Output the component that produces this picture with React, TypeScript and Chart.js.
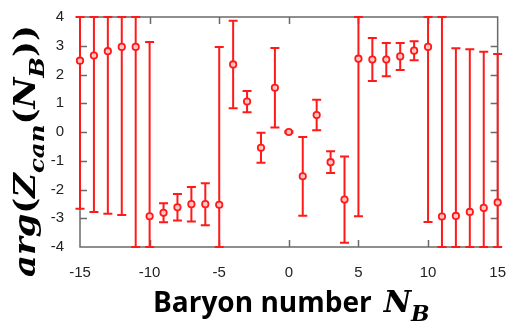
import { useEffect, useRef } from 'react';
import { Chart, registerables } from 'chart.js';

Chart.register(...registerables);

// Baryon number N_B on the horizontal axis
const nB = [-15, -14, -13, -12, -11, -10, -9, -8, -7, -6, -5, -4, -3, -2, -1, 0, 1, 2, 3, 4, 5, 6, 7, 8, 9, 10, 11, 12, 13, 14, 15];
// Phase of the canonical partition function, arg Z_can(N_B)
const argZ = [2.48, 2.66, 2.81, 2.96, 2.96, -2.93, -2.81, -2.62, -2.51, -2.51, -2.53, 2.35, 1.06, -0.55, 1.54, 0.0, -1.54, 0.59, -1.05, -2.35, 2.55, 2.52, 2.52, 2.63, 2.83, 2.96, -2.94, -2.92, -2.78, -2.64, -2.45];
// Symmetric statistical errors
const argZErr = [5.15, 5.44, 5.65, 5.85, 7.2, 6.06, 0.33, 0.46, 0.6, 0.73, 5.49, 1.52, 0.37, 0.52, 1.38, 0.03, 1.37, 0.53, 0.38, 1.5, 5.48, 0.75, 0.58, 0.47, 0.33, 6.09, 7.2, 5.83, 5.66, 5.43, 5.16];

const xMin = -15;
const xMax = 15;
const yMin = -4;
const yMax = 4;
const xMajorTicks = [-10, -5, 0, 5, 10];
const yMajorTicks = [-3, -2, -1, 0, 1, 2, 3];

const RED = '#ff1a1a';
const FRAME = '#6a6a6a';
const MATH = '"DejaVu Serif", "Liberation Serif", serif';

type Seg = { text: string; font: string; dy?: number };

function measureSegs(ctx: CanvasRenderingContext2D, segs: Seg[]) {
  let w = 0;
  for (const s of segs) {
    ctx.font = s.font;
    w += ctx.measureText(s.text).width;
  }
  return w;
}

function drawSegs(ctx: CanvasRenderingContext2D, segs: Seg[], u0: number) {
  let u = u0;
  for (const s of segs) {
    ctx.font = s.font;
    ctx.fillText(s.text, u, s.dy || 0);
    u += ctx.measureText(s.text).width;
  }
}

const decorPlugin = {
  id: 'decor',
  beforeDatasetsDraw(chart: any) {
    const { ctx, chartArea: a, scales } = chart;
    const xs = scales.x;
    const ys = scales.y;
    ctx.save();
    // frame
    ctx.strokeStyle = FRAME;
    ctx.lineWidth = 1.5;
    ctx.strokeRect(a.left, a.top, a.right - a.left, a.bottom - a.top);
    // inward tick marks
    ctx.beginPath();
    for (const v of xMajorTicks) {
      const px = Math.round(xs.getPixelForValue(v)) + 0.5;
      ctx.moveTo(px, a.bottom);
      ctx.lineTo(px, a.bottom - 7);
      ctx.moveTo(px, a.top);
      ctx.lineTo(px, a.top + 7);
    }
    for (const v of yMajorTicks) {
      const py = Math.round(ys.getPixelForValue(v)) + 0.5;
      ctx.moveTo(a.left, py);
      ctx.lineTo(a.left + 7, py);
      ctx.moveTo(a.right, py);
      ctx.lineTo(a.right - 7, py);
    }
    ctx.stroke();

    // error bars, clipped to the axis range
    ctx.strokeStyle = RED;
    ctx.lineWidth = 2;
    const cap = 4.5;
    nB.forEach((n, i) => {
      const px = xs.getPixelForValue(n);
      const hi = Math.min(argZ[i] + argZErr[i], yMax);
      const lo = Math.max(argZ[i] - argZErr[i], yMin);
      const pyHi = ys.getPixelForValue(hi);
      const pyLo = ys.getPixelForValue(lo);
      ctx.beginPath();
      ctx.moveTo(px, pyHi);
      ctx.lineTo(px, pyLo);
      ctx.moveTo(px - cap, pyHi);
      ctx.lineTo(px + cap, pyHi);
      ctx.moveTo(px - cap, pyLo);
      ctx.lineTo(px + cap, pyLo);
      ctx.stroke();
    });
    ctx.restore();
  },
  afterDraw(chart: any) {
    const { ctx } = chart;
    ctx.save();
    ctx.fillStyle = '#000';
    ctx.textBaseline = 'alphabetic';
    ctx.textAlign = 'left';

    // vertical axis title: arg(Z_can(N_B))
    const mainI = `italic bold 29px ${MATH}`;
    const mainU = `bold 29px ${MATH}`;
    const subI = `italic bold 21px ${MATH}`;
    const ySegs: Seg[] = [
      { text: 'arg', font: mainI },
      { text: '(', font: mainU },
      { text: 'Z', font: mainI },
      { text: 'can', font: subI, dy: 9 },
      { text: '(', font: mainU },
      { text: 'N', font: mainI },
      { text: 'B', font: subI, dy: 9 },
      { text: '))', font: mainU },
    ];
    const yw = measureSegs(ctx, ySegs);
    ctx.save();
    ctx.translate(35, 151);
    ctx.rotate(-Math.PI / 2);
    ctx.scale(252 / yw, 1);
    drawSegs(ctx, ySegs, -yw / 2);
    ctx.restore();

    // horizontal axis title: Baryon number N_B
    ctx.font = 'bold 28px "Open Sans", Lato, sans-serif';
    const label = 'Baryon number';
    const lw = ctx.measureText(label).width;
    ctx.fillText(label, 153, 312);
    ctx.save();
    ctx.translate(153 + lw + 12, 312);
    drawSegs(ctx, [
      { text: 'N', font: `italic bold 30px ${MATH}` },
      { text: 'B', font: `italic bold 22px ${MATH}`, dy: 9 },
    ], 0);
    ctx.restore();

    ctx.restore();
  },
};

export default function App() {
  const ref = useRef<HTMLCanvasElement>(null);
  useEffect(() => {
    document.body.style.margin = '0';
    const points = nB.map((n, i) => ({ x: n, y: argZ[i] }));
    const chart = new Chart(ref.current!, {
      type: 'scatter',
      data: {
        datasets: [
          {
            data: points,
            borderColor: RED,
            backgroundColor: 'rgba(255,210,210,0.9)',
            pointRadius: 3.2,
            pointBorderWidth: 1.8,
            clip: false as any,
          },
        ],
      },
      options: {
        animation: false,
        responsive: true,
        maintainAspectRatio: false,
        layout: { padding: { top: 13, right: 10, left: 0, bottom: 0 } },
        plugins: { legend: { display: false }, tooltip: { enabled: false } },
        scales: {
          x: {
            type: 'linear',
            min: xMin,
            max: xMax,
            grid: { display: false },
            border: { display: false },
            ticks: {
              stepSize: 5,
              padding: 9,
              color: '#222',
              font: { family: '"Liberation Sans", Arial, sans-serif', size: 15 },
            },
            afterFit(scale: any) {
              scale.height = 78;
            },
          },
          y: {
            type: 'linear',
            min: yMin,
            max: yMax,
            grid: { display: false },
            border: { display: false },
            ticks: {
              stepSize: 1,
              padding: 8,
              color: '#222',
              font: { family: '"Liberation Sans", Arial, sans-serif', size: 15 },
            },
            afterFit(scale: any) {
              scale.width = 80;
            },
          },
        },
      },
      plugins: [decorPlugin],
    });
    return () => chart.destroy();
  }, []);
  return (
    <div style={{ position: 'relative', width: 515, height: 325 }}>
      <canvas ref={ref} />
    </div>
  );
}
